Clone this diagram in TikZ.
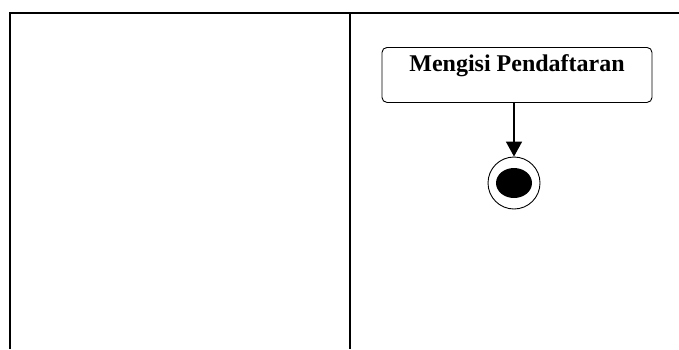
\documentclass[tikz,border=0pt]{standalone}
\usepackage{fontspec}
\setmainfont{Liberation Serif}
\usetikzlibrary{arrows.meta,shapes.geometric}
\begin{document}
\begin{tikzpicture}[x=1pt,y=-1pt,
  lane/.style={line width=2pt},
  activity/.style={draw,line width=0.9pt,rounded corners=5pt,minimum width=270pt,minimum height=55pt},
  actlabel/.style={font=\fontsize{24}{26}\selectfont\bfseries},
  flow/.style={line width=1.6pt,-{Triangle[length=15pt,width=16pt]}}]
\useasboundingbox (0,0) rectangle (679,349);
% swimlane frame
\coordinate (tl) at (10,13);
\coordinate (tr) at (679,13);
\coordinate (bl) at (10,349);
\coordinate (tm) at (350,13);
\coordinate (bm) at (350,349);
\draw[lane] (bl) -- (tl) -- (tr);
\draw[lane] (tm) -- (bm);
% activity
\node[activity,anchor=north] (act) at (517,47) {};
\node[actlabel] (lbl) at (517,66) {Mengisi Pendaftaran};
% final state
\node[draw,circle,line width=0.9pt,minimum size=52pt,inner sep=0pt] (final) at (514,183) {};
\node[fill=black,ellipse,minimum width=36pt,minimum height=30pt,inner sep=0pt] (dot) at (final.center) {};
\draw[flow] (act.south -| final) -- (final.north);
\end{tikzpicture}
\end{document}
